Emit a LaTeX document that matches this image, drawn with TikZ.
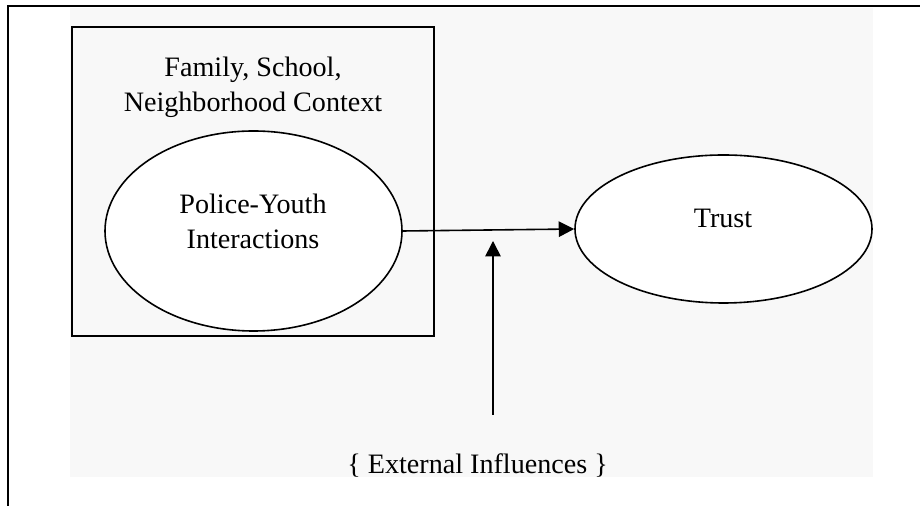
\documentclass[tikz,border=0pt]{standalone}
\usepackage{fontspec}
\setmainfont{Liberation Serif}
\usetikzlibrary{arrows.meta,shapes.geometric}
\definecolor{bggray}{HTML}{F8F8F8}
\begin{document}
\begin{tikzpicture}[every node/.style={rectangle}, text centered, line width=.4mm, >={Triangle[length=11pt,width=11pt]}, font=\fontsize{20pt}{24.9pt}\selectfont]
	\useasboundingbox (0,0) rectangle (23,12.65);
	\fill[bggray] (1.75,.725) rectangle (21.825,12.45);
	\draw[line width=.6mm] (.2,0) -- (.2,12.5) -- (23,12.5);
	\node[draw, minimum width=9.05cm, minimum height=7.725cm, inner sep=0pt] (context) at (6.325, 8.1125) {};
	\node[align=center, inner sep=0pt] (contextText) at (6.325, 10.48) {Family, School,\\Neighborhood Context};
	\node[draw, ellipse, fill=white, minimum width=7.425cm, minimum height=5cm, inner sep=0pt] (police) at (6.3375, 6.875) {};
	\node[align=center, inner sep=0pt] (policeText) at (6.325, 7.125) {Police-Youth\\Interactions};
	\node[draw, ellipse, fill=white, minimum width=7.425cm, minimum height=3.7cm, inner sep=0pt] (trust) at (18.0875, 6.925) {};
	\node[inner sep=0pt] (trustText) at (18.075, 7.2) {Trust};
	\draw[->] (police.east) -- (trust.west);
	\coordinate (influence) at (12.325, 2.275);
	\coordinate (moderator) at (12.325, 6.625);
	\draw[->] (influence) -- (moderator);
	\node[inner sep=0pt] (externalText) at (11.94, 1.025) {\{ External Influences \}};
\end{tikzpicture}
\end{document}
